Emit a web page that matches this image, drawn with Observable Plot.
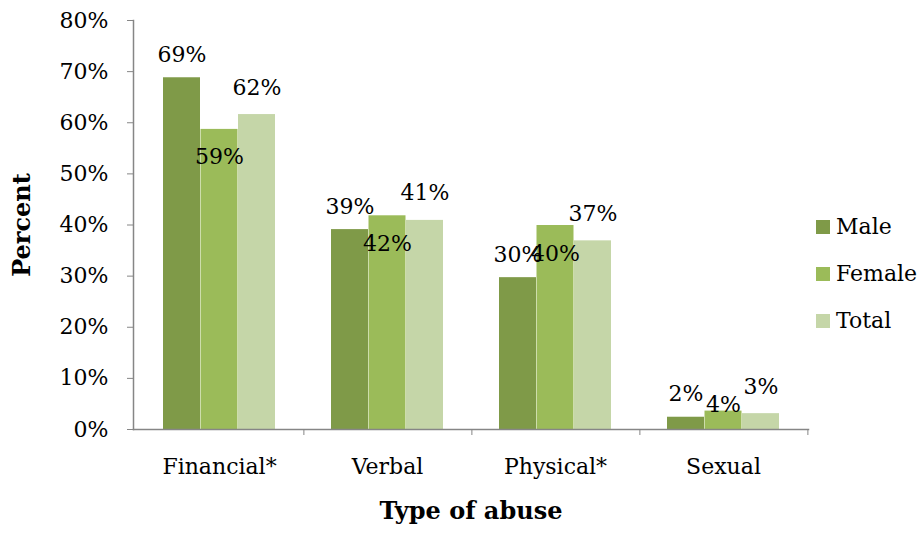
<!DOCTYPE html>
<html>
<head>
<meta charset="utf-8">
<script src="https://cdn.jsdelivr.net/npm/d3@7"></script>
<script src="https://cdn.jsdelivr.net/npm/@observablehq/plot@0.6"></script>
<style>
  html, body { margin: 0; padding: 0; background: #fff; }
  #wrap { position: relative; width: 924px; height: 535px; font-family: "DejaVu Serif", serif; }
  #legend { position: absolute; left: 816px; top: 203px; font-size: 22px; color: #000; }
  #legend .row { display: flex; align-items: center; height: 47px; }
  #legend .sw { width: 14px; height: 14px; margin-right: 6px; }
</style>
</head>
<body>
<div id="wrap"></div>
<script>
const categories = ["Financial*", "Verbal", "Physical*", "Sexual"];
const series = ["Male", "Female", "Total"];
const maleValues   = [0.688, 0.391, 0.297, 0.024];
const femaleValues = [0.587, 0.418, 0.399, 0.036];
const totalValues  = [0.616, 0.409, 0.369, 0.031];
const yTicks = [0, 0.1, 0.2, 0.3, 0.4, 0.5, 0.6, 0.7, 0.8];
const colors = ["#7f9a48", "#9bbb59", "#c5d6a8"];

const valuesBySeries = {Male: maleValues, Female: femaleValues, Total: totalValues};
const data = series.flatMap(s => categories.map((c, i) => ({category: c, series: s, value: valuesBySeries[s][i]})));

const W = 924, H = 535, mL = 133, mR = 116, mT = 20, mB = 106;
const step = (W - mL - mR) / categories.length;
const band = step * 2 / 3;
const bw = band / 3;
const pxPerUnit = (H - mT - mB) / 0.8;
const fmt = d3.format(".0%");
// label placement: Male/Total above the bar end; Female inside the bar end,
// unless the bar is too short to hold the label, then just above it.
const labelY = {
  Male: v => v + 23 / pxPerUnit,
  Female: v => (v * pxPerUnit > 40 ? v - 28 / pxPerUnit : v + 6 / pxPerUnit),
  Total: v => v + 27 / pxPerUnit
};

const marks = [];
series.forEach((s, k) => {
  const d = data.filter(r => r.series === s);
  marks.push(Plot.barY(d, {x: "category", y: "value", fill: colors[k], insetLeft: k * bw, insetRight: (2 - k) * bw}));
});
series.forEach((s, k) => {
  const d = data.filter(r => r.series === s);
  marks.push(Plot.text(d, {x: "category", y: r => labelY[s](r.value), text: r => fmt(r.value), dx: (k - 1) * bw, fill: "#000", fontSize: 22}));
});

const chart = Plot.plot({
  width: W, height: H,
  marginLeft: mL, marginRight: mR, marginTop: mT, marginBottom: mB,
  style: {fontFamily: "DejaVu Serif", fontSize: "22px", color: "#000", background: "#fff"},
  x: {domain: categories, paddingInner: 1/3, paddingOuter: 1/6, axis: null},
  y: {domain: [0, 0.8], axis: null},
  marks: [
    ...marks,
    Plot.frame({anchor: "left", stroke: "#868686", strokeWidth: 1.5}),
    Plot.frame({anchor: "bottom", stroke: "#868686", strokeWidth: 1.5}),
    Plot.axisY({ticks: yTicks, tickFormat: ".0%", tickSize: 6, tickPadding: 19, stroke: "#868686", fill: "#000", fontSize: 22, label: null}),
    Plot.axisX({tickSize: 0, tickPadding: 29, fill: "#000", fontSize: 22, label: null}),
    Plot.axisX({tickSize: 6, dx: step / 2, tickFormat: () => "", stroke: "#868686", label: null}),
    Plot.text(["Type of abuse"], {frameAnchor: "bottom", dy: 89, fontWeight: "bold", fontSize: 24, fill: "#000"}),
    Plot.text(["Percent"], {frameAnchor: "left", dx: -111, rotate: -90, textAnchor: "middle", fontWeight: "bold", fontSize: 24, fill: "#000"})
  ]
});

const wrap = document.getElementById("wrap");
wrap.appendChild(chart);
const legend = document.createElement("div");
legend.id = "legend";
series.forEach((s, k) => {
  const row = document.createElement("div");
  row.className = "row";
  const sw = document.createElement("span");
  sw.className = "sw";
  sw.style.background = colors[k];
  const t = document.createElement("span");
  t.textContent = s;
  row.appendChild(sw); row.appendChild(t);
  legend.appendChild(row);
});
wrap.appendChild(legend);
</script>
</body>
</html>
